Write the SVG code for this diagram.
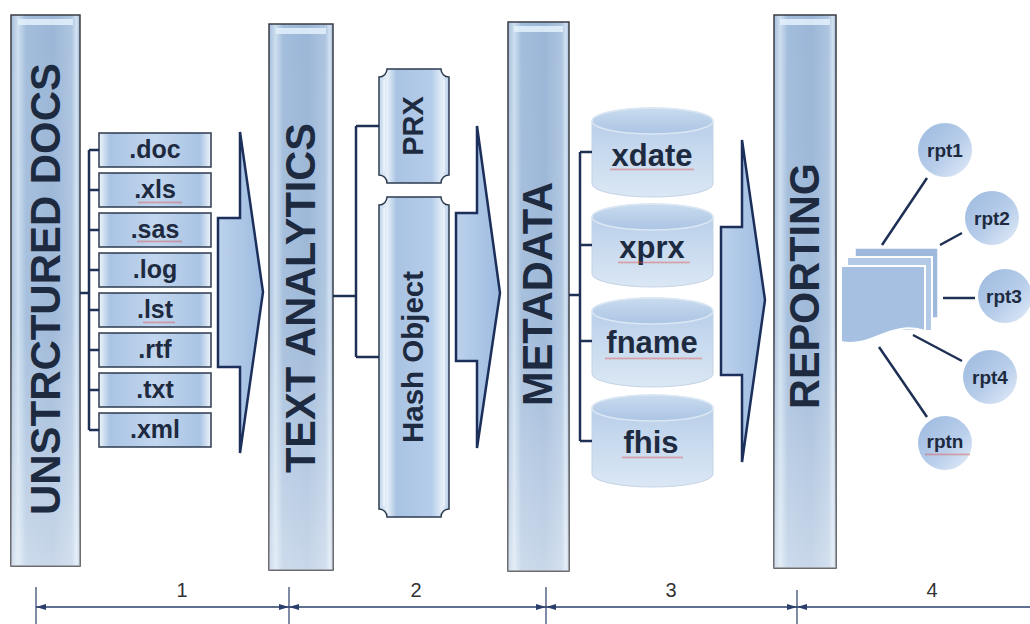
<svg xmlns="http://www.w3.org/2000/svg" width="1030" height="624" viewBox="0 0 1030 624">
  <style>
    .pillar { stroke: #3a3d44; stroke-width: 1.5; }
    .pshade { fill: url(#pillarV); }
    .phi { fill: #e4f1fb; opacity: 0.85; }
    .ptxt { font-family: "Liberation Sans", Arial, sans-serif; font-weight: bold; font-size: 42px; fill: #1d2a40; }
    .file { fill: url(#fileG); stroke: #2b3a4f; stroke-width: 1.5; }
    .ftxt { font-family: "Liberation Sans", Arial, sans-serif; font-weight: bold; font-size: 25px; fill: #1d2a40; text-anchor: middle; }
    .plaque { fill: url(#plaqueG); stroke: #2b3a4f; stroke-width: 1.5; }
    .plaque-in { fill: none; stroke: #ffffff; stroke-width: 1.2; opacity: 0.7; }
    .qtxt { font-family: "Liberation Sans", Arial, sans-serif; font-weight: bold; font-size: 29px; fill: #1d2a40; text-anchor: middle; }
    .cyl { fill: url(#cylG); stroke: #c3d3e5; stroke-width: 1; }
    .cyltop { fill: url(#cylTopG); stroke: #dbe7f4; stroke-width: 1.5; }
    .ctxt { font-family: "Liberation Sans", Arial, sans-serif; font-weight: bold; font-size: 31px; fill: #1d2a40; text-anchor: middle; }
    .rpt { fill: url(#rptG); }
    .rtxt { font-family: "Liberation Sans", Arial, sans-serif; font-weight: bold; font-size: 19px; fill: #1d2a40; text-anchor: middle; }
    .link { fill: none; stroke: #1e3154; stroke-width: 2.5; }
    .flow { fill: url(#flowG); stroke: #1b2f5a; stroke-width: 2.5; stroke-linejoin: miter; }
    .dim { stroke: #2a3f6b; stroke-width: 1.5; fill: none; }
    .dtick { stroke: #2a3f6b; stroke-width: 1.2; }
    .dtxt { font-family: "Liberation Sans", Arial, sans-serif; font-size: 20px; fill: #333333; text-anchor: middle; }
    .squiggle { fill: url(#wave); opacity: 0.55; }
  </style>
  <defs>
    <linearGradient id="pillarH" x1="0" y1="0" x2="1" y2="0">
      <stop offset="0" stop-color="#a6bedb"/>
      <stop offset="0.1" stop-color="#cddfef"/>
      <stop offset="0.22" stop-color="#a3bddc"/>
      <stop offset="0.6" stop-color="#9bb6d7"/>
      <stop offset="0.88" stop-color="#aec5e0"/>
      <stop offset="0.95" stop-color="#d2e2f2"/>
      <stop offset="1" stop-color="#a2bad7"/>
    </linearGradient>
    <linearGradient id="pillarV" x1="0" y1="0" x2="0" y2="1">
      <stop offset="0" stop-color="#ffffff" stop-opacity="0"/>
      <stop offset="0.55" stop-color="#ffffff" stop-opacity="0.05"/>
      <stop offset="1" stop-color="#ffffff" stop-opacity="0.45"/>
    </linearGradient>
    <linearGradient id="fileG" x1="0" y1="0" x2="1" y2="0">
      <stop offset="0" stop-color="#eef4fa"/>
      <stop offset="0.1" stop-color="#a9c4e4"/>
      <stop offset="0.5" stop-color="#c2d6ee"/>
      <stop offset="0.9" stop-color="#a9c4e4"/>
      <stop offset="1" stop-color="#eef4fa"/>
    </linearGradient>
    <linearGradient id="plaqueG" x1="0" y1="0" x2="1" y2="0">
      <stop offset="0" stop-color="#c4d7ee"/>
      <stop offset="0.12" stop-color="#e6eff9"/>
      <stop offset="0.25" stop-color="#a9c3e3"/>
      <stop offset="0.75" stop-color="#b5cdea"/>
      <stop offset="0.9" stop-color="#e3edf8"/>
      <stop offset="1" stop-color="#b9cfe9"/>
    </linearGradient>
    <linearGradient id="cylG" x1="0" y1="0" x2="0" y2="1">
      <stop offset="0" stop-color="#b3cbe7"/>
      <stop offset="0.55" stop-color="#c9dbef"/>
      <stop offset="1" stop-color="#dbe7f4"/>
    </linearGradient>
    <linearGradient id="cylTopG" x1="0" y1="0" x2="0" y2="1">
      <stop offset="0" stop-color="#c9dbef"/>
      <stop offset="1" stop-color="#abc5e4"/>
    </linearGradient>
    <linearGradient id="rptG" x1="0" y1="0" x2="1" y2="1">
      <stop offset="0" stop-color="#9cb9df"/>
      <stop offset="0.55" stop-color="#b7cdea"/>
      <stop offset="1" stop-color="#e4edf8"/>
    </linearGradient>
    <linearGradient id="flowG" x1="0" y1="0" x2="1" y2="0">
      <stop offset="0" stop-color="#bcd2ec"/>
      <stop offset="1" stop-color="#9dbbe0"/>
    </linearGradient>
    <pattern id="wave" width="4" height="3" patternUnits="userSpaceOnUse">
      <path d="M0,2.5 L1,0.5 L2,2.5 L3,0.5 L4,2.5" fill="none" stroke="#d9534f" stroke-width="0.8"/>
    </pattern>
    <marker id="dimArrow" viewBox="0 0 10 6" refX="10" refY="3" markerWidth="10" markerHeight="6" markerUnits="userSpaceOnUse" orient="auto-start-reverse">
      <path d="M0,0 L10,3 L0,6 Z" fill="#2a3f6b"/>
    </marker>
  </defs>

  <rect width="1030" height="624" fill="#ffffff"/>

  <!-- Stage pillars -->
  <g id="unstructured-docs">
    <rect class="pillar" x="11" y="15" width="69" height="551" fill="url(#pillarH)"/>
    <rect class="pshade" x="11" y="15" width="69" height="551"/>
    <rect class="phi" x="18" y="19" width="55" height="6"/>
    <text class="ptxt" transform="translate(60,289) rotate(-90)" text-anchor="middle" textLength="452" lengthAdjust="spacingAndGlyphs">UNSTRCTURED DOCS</text>
  </g>
  <g id="text-analytics">
    <rect class="pillar" x="269" y="24" width="64" height="546" fill="url(#pillarH)"/>
    <rect class="pshade" x="269" y="24" width="64" height="546"/>
    <rect class="phi" x="276" y="28" width="50" height="6"/>
    <text class="ptxt" transform="translate(315,298) rotate(-90)" text-anchor="middle" textLength="350" lengthAdjust="spacingAndGlyphs">TEXT ANALYTICS</text>
  </g>
  <g id="metadata">
    <rect class="pillar" x="508" y="22" width="61" height="549" fill="url(#pillarH)"/>
    <rect class="pshade" x="508" y="22" width="61" height="549"/>
    <rect class="phi" x="514" y="26" width="49" height="6"/>
    <text class="ptxt" transform="translate(552,294) rotate(-90)" text-anchor="middle" textLength="224" lengthAdjust="spacingAndGlyphs">METADATA</text>
  </g>
  <g id="reporting">
    <rect class="pillar" x="774" y="15" width="62" height="553" fill="url(#pillarH)"/>
    <rect class="pshade" x="774" y="15" width="62" height="553"/>
    <rect class="phi" x="780" y="19" width="50" height="6"/>
    <text class="ptxt" transform="translate(819,286) rotate(-90)" text-anchor="middle" textLength="246" lengthAdjust="spacingAndGlyphs">REPORTING</text>
  </g>

  <!-- Source document types -->
  <g id="file-doc"><rect class="file" x="99" y="133" width="112" height="34"/><text class="ftxt" x="155" y="158">.doc</text></g>
  <g id="file-xls"><rect class="file" x="99" y="173" width="112" height="34"/><text class="ftxt" x="155" y="198">.xls</text></g>
  <g id="file-sas"><rect class="file" x="99" y="213" width="112" height="34"/><text class="ftxt" x="155" y="238">.sas</text></g>
  <g id="file-log"><rect class="file" x="99" y="253" width="112" height="34"/><text class="ftxt" x="155" y="278">.log</text></g>
  <g id="file-lst"><rect class="file" x="99" y="293" width="112" height="34"/><text class="ftxt" x="155" y="318">.lst</text></g>
  <g id="file-rtf"><rect class="file" x="99" y="333" width="112" height="34"/><text class="ftxt" x="155" y="358">.rtf</text></g>
  <g id="file-txt"><rect class="file" x="99" y="373" width="112" height="34"/><text class="ftxt" x="155" y="398">.txt</text></g>
  <g id="file-xml"><rect class="file" x="99" y="413" width="112" height="34"/><text class="ftxt" x="155" y="438">.xml</text></g>

  <!-- Text analytics tools -->
  <g id="prx">
    <path class="plaque" d="M387,69 H441 A8,8 0 0 0 449,77 V175 A8,8 0 0 0 441,183 H387 A8,8 0 0 0 379,175 V77 A8,8 0 0 0 387,69 Z"/>
    <path class="plaque-in" d="M384,80 V172 M444,80 V172"/>
    <text class="qtxt" transform="translate(423,126) rotate(-90)">PRX</text>
  </g>
  <g id="hash-object">
    <path class="plaque" d="M387,197 H441 A8,8 0 0 0 449,205 V509 A8,8 0 0 0 441,517 H387 A8,8 0 0 0 379,509 V205 A8,8 0 0 0 387,197 Z"/>
    <path class="plaque-in" d="M384,208 V506 M444,208 V506"/>
    <text class="qtxt" transform="translate(423,357) rotate(-90)" textLength="172" lengthAdjust="spacingAndGlyphs">Hash Object</text>
  </g>

  <!-- Metadata tables -->
  <g id="xdate">
    <path class="cyl" d="M592,121 A60.5,13 0 0 1 713,121 V184 A60.5,13 0 0 1 592,184 Z"/>
    <ellipse class="cyltop" cx="652.5" cy="121" rx="60.5" ry="13"/>
    <text class="ctxt" x="652" y="166">xdate</text>
  </g>
  <g id="xprx">
    <path class="cyl" d="M592,217 A60.5,13 0 0 1 713,217 V274 A60.5,13 0 0 1 592,274 Z"/>
    <ellipse class="cyltop" cx="652.5" cy="217" rx="60.5" ry="13"/>
    <text class="ctxt" x="652" y="258">xprx</text>
  </g>
  <g id="fname">
    <path class="cyl" d="M592,311 A60.5,13 0 0 1 713,311 V374 A60.5,13 0 0 1 592,374 Z"/>
    <ellipse class="cyltop" cx="652.5" cy="311" rx="60.5" ry="13"/>
    <text class="ctxt" x="652" y="353">fname</text>
  </g>
  <g id="fhis">
    <path class="cyl" d="M592,408 A60.5,13 0 0 1 713,408 V474 A60.5,13 0 0 1 592,474 Z"/>
    <ellipse class="cyltop" cx="652.5" cy="408" rx="60.5" ry="13"/>
    <text class="ctxt" x="651" y="453">fhis</text>
  </g>

  <!-- Report stack -->
  <g id="report-stack">
    <rect x="855" y="248" width="83" height="70" fill="#9fb9dd" stroke="#ffffff" stroke-width="1.5"/>
    <rect x="847" y="257" width="85" height="74" fill="#b3cae7" stroke="#ffffff" stroke-width="2"/>
    <path d="M841,266 H925 V331 C908,325 892,330 876,337 C862,343 850,344 841,342 Z" fill="#a6c0e2" stroke="#ffffff" stroke-width="2"/>
  </g>

  <!-- Report outputs -->
  <g id="rpt1"><circle class="rpt" cx="945" cy="150" r="27"/><text class="rtxt" x="945" y="157">rpt1</text></g>
  <g id="rpt2"><circle class="rpt" cx="992" cy="218" r="27"/><text class="rtxt" x="992" y="225">rpt2</text></g>
  <g id="rpt3"><circle class="rpt" cx="1005" cy="296" r="27"/><text class="rtxt" x="1004" y="303">rpt3</text></g>
  <g id="rpt4"><circle class="rpt" cx="990" cy="377" r="27"/><text class="rtxt" x="990" y="384">rpt4</text></g>
  <g id="rptn"><circle class="rpt" cx="945" cy="443" r="27"/><text class="rtxt" x="945" y="448">rptn</text></g>

  <!-- Spell-check marks under flagged words -->
  <g id="spell-marks">
    <rect class="squiggle" x="138" y="201" width="44" height="3"/>
    <rect class="squiggle" x="137" y="240" width="45" height="3"/>
    <rect class="squiggle" x="143" y="321" width="32" height="3"/>
    <rect class="squiggle" x="610" y="168" width="84" height="3"/>
    <rect class="squiggle" x="618" y="261" width="72" height="3"/>
    <rect class="squiggle" x="605" y="357" width="97" height="3"/>
    <rect class="squiggle" x="622" y="456" width="61" height="3"/>
    <rect class="squiggle" x="925" y="453" width="45" height="3"/>
  </g>

  <!-- Connectors -->
  <g id="connectors">
    <!-- bracket: docs pillar to file types -->
    <path class="link" d="M80,293 H89 M89,150 V430 M89,150 H99 M89,190 H99 M89,230 H99 M89,270 H99 M89,310 H99 M89,350 H99 M89,390 H99 M89,430 H99"/>
    <!-- bracket: analytics pillar to tools -->
    <path class="link" d="M333,296 H356 M356,126 V357 M356,126 H379 M356,357 H379"/>
    <!-- bracket: metadata pillar to tables -->
    <path class="link" d="M569,295 H580 M580,152 V441 M580,152 H592 M580,245 H592 M580,341 H592 M580,441 H592"/>
    <!-- report fan-out -->
    <path class="link" d="M927,178 L882,245 M962,233 L940,245 M943,298 H975 M913,335 L962,361 M879,347 L927,417"/>
    <!-- block arrows between stages -->
    <path class="flow" d="M218,218 H240 V132 L263,292 L240,453 V367 H218 Z"/>
    <path class="flow" d="M456,213 H477 V126 L500,293 L477,448 V361 H456 Z"/>
    <path class="flow" d="M721,227 H742 V140 L765,300 L742,462 V375 H721 Z"/>
  </g>

  <!-- Stage dimension line -->
  <g id="stage-scale">
    <line class="dtick" x1="36" y1="587" x2="36" y2="624"/>
    <line class="dtick" x1="289" y1="587" x2="289" y2="624"/>
    <line class="dtick" x1="546" y1="587" x2="546" y2="624"/>
    <line class="dtick" x1="797" y1="590" x2="797" y2="624"/>
    <line class="dim" x1="36" y1="607" x2="289" y2="607" marker-start="url(#dimArrow)" marker-end="url(#dimArrow)"/>
    <line class="dim" x1="289" y1="607" x2="546" y2="607" marker-start="url(#dimArrow)" marker-end="url(#dimArrow)"/>
    <line class="dim" x1="546" y1="607" x2="797" y2="607" marker-start="url(#dimArrow)" marker-end="url(#dimArrow)"/>
    <line class="dim" x1="797" y1="607" x2="1040" y2="607" marker-start="url(#dimArrow)"/>
    <text class="dtxt" x="182" y="597">1</text>
    <text class="dtxt" x="416" y="597">2</text>
    <text class="dtxt" x="671" y="597">3</text>
    <text class="dtxt" x="932" y="597">4</text>
  </g>
</svg>
